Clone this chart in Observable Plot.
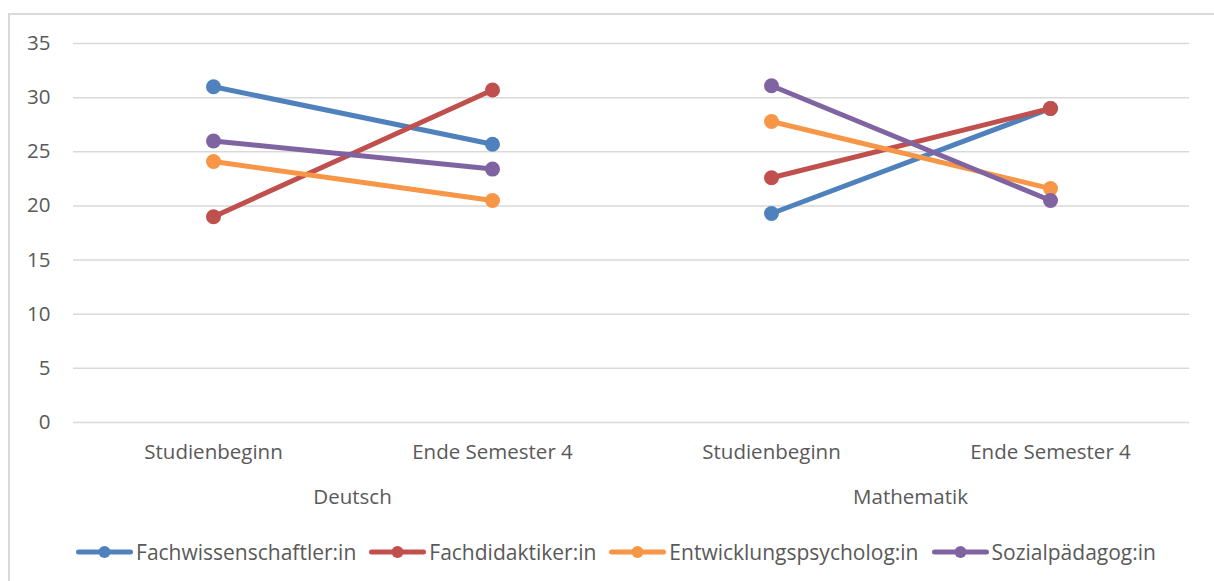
<!DOCTYPE html>
<html>
<head>
<meta charset="utf-8">
<script src="https://cdn.jsdelivr.net/npm/d3@7"></script>
<script src="https://cdn.jsdelivr.net/npm/@observablehq/plot@0.6"></script>
<style>
  body { margin: 0; background: #fff; }
  #wrap { position: relative; width: 1214px; height: 581px; overflow: hidden; font-family: "Open Sans", sans-serif; background: #fff; }
  #frame { position: absolute; left: 8px; top: 13px; width: 1220px; height: 600px; border-left: 2px solid #d9d9d9; border-top: 2px solid #d9d9d9; box-sizing: border-box; }
  #chart { position: absolute; left: 0; top: 0; }
  #legend { position: absolute; left: 9px; top: 538px; width: 1214px; display: flex; justify-content: center; align-items: center; gap: 13px; color: #595959; font-size: 21px; }
  .item { display: flex; align-items: center; }
  .item svg { margin-right: 3px; }
</style>
</head>
<body>
<div id="wrap">
  <div id="frame"></div>
  <div id="chart"></div>
  <div id="legend"></div>
</div>
<script>
const subjects = ["Deutsch", "Mathematik"];
const times = ["Studienbeginn", "Ende Semester 4"];
const series = ["Fachwissenschaftler:in", "Fachdidaktiker:in", "Entwicklungspsycholog:in", "Sozialpädagog:in"];
const colors = ["#4F81BD", "#C0504D", "#F79646", "#8064A2"];
const deutschStart = [31.0, 19.0, 24.1, 26.0];
const deutschEnd = [25.7, 30.7, 20.5, 23.4];
const matheStart = [19.3, 22.6, 27.8, 31.1];
const matheEnd = [29.0, 29.0, 21.6, 20.5];
const yTicks = [0, 5, 10, 15, 20, 25, 30, 35];

const rows = [];
series.forEach((s, i) => {
  rows.push({subject: subjects[0], time: times[0], series: s, value: deutschStart[i]});
  rows.push({subject: subjects[0], time: times[1], series: s, value: deutschEnd[i]});
  rows.push({subject: subjects[1], time: times[0], series: s, value: matheStart[i]});
  rows.push({subject: subjects[1], time: times[1], series: s, value: matheEnd[i]});
});

const seriesMarks = series.flatMap(s => {
  const d = rows.filter(r => r.series === s);
  return [
    Plot.line(d, {fx: "subject", x: "time", y: "value", stroke: "series", strokeWidth: 5}),
    Plot.dot(d, {fx: "subject", x: "time", y: "value", fill: "series", r: 7.5})
  ];
});

const chart = Plot.plot({
  width: 1214,
  height: 520,
  marginLeft: 72,
  marginRight: 25,
  marginTop: 43,
  marginBottom: 98,
  style: {fontFamily: "'Open Sans', sans-serif", fontSize: "20.5px", color: "#595959", background: "transparent", overflow: "visible"},
  fx: {domain: subjects, padding: 0, label: null, axis: "bottom", tickSize: 0, tickPadding: 67},
  x: {domain: times, padding: 0.5, label: null, tickSize: 0, tickPadding: 22},
  y: {domain: [0, 35], ticks: yTicks, label: null, tickSize: 0, tickPadding: 23},
  color: {domain: series, range: colors},
  marks: [
    Plot.ruleY(yTicks, {stroke: "#d9d9d9", strokeWidth: 1.5}),
    ...seriesMarks
  ]
});
document.getElementById("chart").appendChild(chart);

const legend = document.getElementById("legend");
series.forEach((s, i) => {
  const item = document.createElement("div");
  item.className = "item";
  item.innerHTML = `<svg width="57" height="14"><line x1="2.5" x2="54.5" y1="7" y2="7" stroke="${colors[i]}" stroke-width="5" stroke-linecap="round"/><circle cx="28.5" cy="7" r="6" fill="${colors[i]}"/></svg><span>${s}</span>`;
  legend.appendChild(item);
});
</script>
</body>
</html>
